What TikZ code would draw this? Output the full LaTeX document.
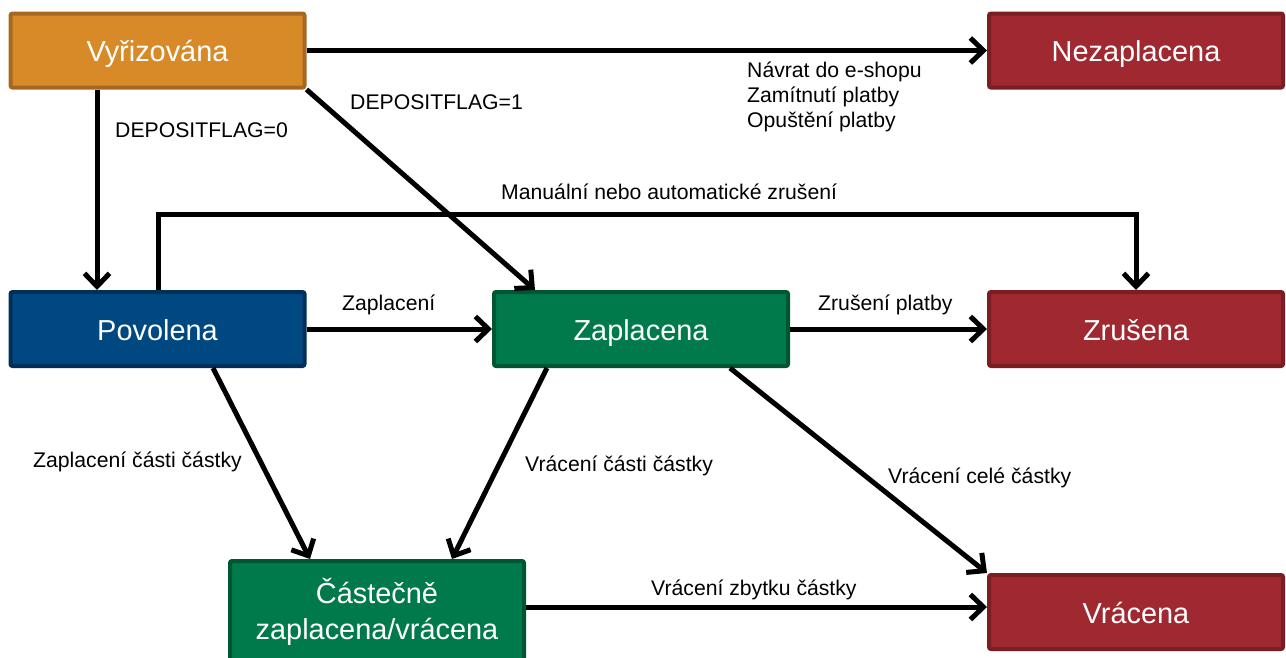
\documentclass[tikz,border=0pt]{standalone}
\usepackage{fontspec}
\setmainfont{Liberation Sans}
\usetikzlibrary{arrows.meta}
\definecolor{orfill}{RGB}{217,138,40}
\definecolor{ordraw}{RGB}{166,104,32}
\definecolor{rdfill}{RGB}{160,40,48}
\definecolor{rddraw}{RGB}{122,30,36}
\definecolor{blfill}{RGB}{0,72,130}
\definecolor{bldraw}{RGB}{0,48,90}
\definecolor{grfill}{RGB}{0,122,74}
\definecolor{grdraw}{RGB}{0,85,50}
\tikzset{
  statebox/.style={rectangle, rounded corners=2pt, line width=4pt, text=white,
    minimum width=294pt, minimum height=74pt, inner sep=0pt, align=center,
    font=\fontsize{28.9}{36}\selectfont},
  onebox/.style={text height=24pt, text depth=2pt},
  orbox/.style={statebox, onebox, fill=orfill, draw=ordraw},
  rdbox/.style={statebox, onebox, fill=rdfill, draw=rddraw},
  blbox/.style={statebox, onebox, fill=blfill, draw=bldraw},
  grbox/.style={statebox, fill=grfill, draw=grdraw},
  conn/.style={line width=5pt, -{Straight Barb[length=13pt, width=25pt, line width=5pt]}},
  lbl/.style={inner sep=0pt, anchor=west, font=\fontsize{21.2}{25}\selectfont}
}
\begin{document}
\begin{tikzpicture}[x=1pt, y=-1pt]
\useasboundingbox (0,0) rectangle (1286,657);
\node[orbox] (vy) at (157.5,50.5) {Vyřizována};
\node[rdbox] (nez) at (1136,50.5) {Nezaplacena};
\node[blbox] (pov) at (157.5,329) {Povolena};
\node[grbox, onebox] (zap) at (641,329) {Zaplacena};
\node[rdbox] (zru) at (1136,329) {Zrušena};
\node[grbox, minimum height=102pt] (cas) at (377,612) {Částečně\\zaplacena/vrácena};
\node[rdbox] (vra) at (1136,612) {Vrácena};

\draw[conn] (vy) -- (nez);
\draw[conn] ([xshift=-60.5pt]vy.south) -- ([xshift=-60.5pt]pov.north);
\draw[conn] (vy.south east) -- ([xshift=43pt]zap.north west);
\draw[conn] ([xshift=0.5pt]pov.north) -- ++(0,-75.5) -| (zru.north);
\draw[conn] (pov) -- (zap);
\draw[conn] (zap) -- (zru);
\draw[conn] ([xshift=55.5pt]pov.south) -- ([xshift=-67pt]cas.north);
\draw[conn] ([xshift=-94pt]zap.south) -- ([xshift=75pt]cas.north);
\draw[conn] ([xshift=89pt]zap.south) -- (vra.north west);
\draw[conn] ([yshift=5pt]cas.east) -- ([yshift=5pt]vra.west);

\node[lbl] (l1) at (115,130) {DEPOSITFLAG=0};
\node[lbl] (l2) at (350,102) {DEPOSITFLAG=1};
\node[lbl, anchor=north west, align=left] (l3) at (747,62) {Návrat do e-shopu\\Zamítnutí platby\\Opuštění platby};
\node[lbl] (l4) at (501,192) {Manuální nebo automatické zrušení};
\node[lbl] (l5) at (342,305) {Zaplacení};
\node[lbl] (l6) at (818,305) {Zrušení platby};
\node[lbl] (l7) at (33,462) {Zaplacení části částky};
\node[lbl] (l8) at (525,466) {Vrácení části částky};
\node[lbl] (l9) at (888,478) {Vrácení celé částky};
\node[lbl] (l10) at (651,590) {Vrácení zbytku částky};
\end{tikzpicture}
\end{document}
